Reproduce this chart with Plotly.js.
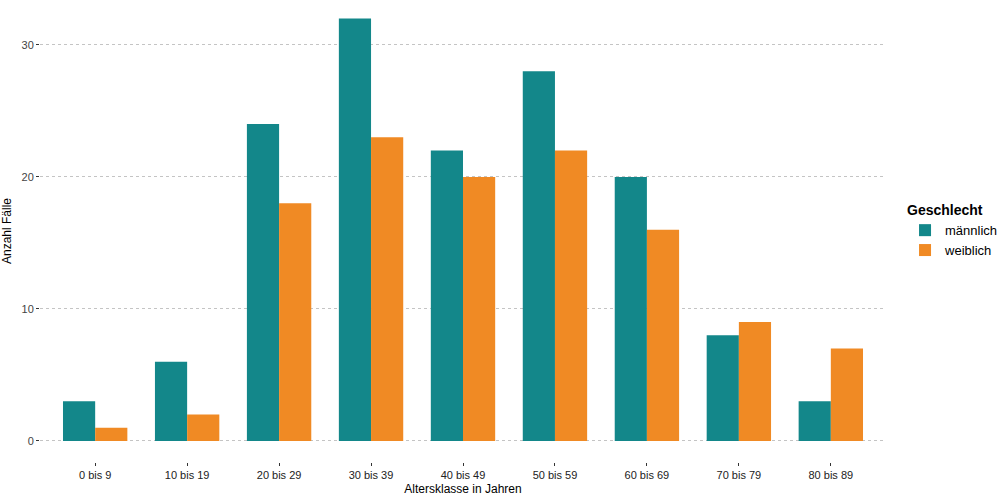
<!DOCTYPE html>
<html>
<head>
<meta charset="utf-8">
<script src="https://cdn.plot.ly/plotly-3.0.1.min.js"></script>
<style>body{margin:0;background:#fff}#chart{width:1000px;height:500px}</style>
</head>
<body>
<div id="chart"></div>
<script>
var categories = ["0 bis 9","10 bis 19","20 bis 29","30 bis 39","40 bis 49","50 bis 59","60 bis 69","70 bis 79","80 bis 89"];
var maennlich = [3,6,24,32,22,28,20,8,3];
var weiblich = [1,2,18,23,20,22,16,9,7];
var yTicks = [0,10,20,30];

var font = {family:"Liberation Sans, Arial, sans-serif", color:"#333333", size:11};
var traces = [
  {type:"bar", name:"männlich", x:categories, y:maennlich, marker:{color:"#13878A"}},
  {type:"bar", name:"weiblich", x:categories, y:weiblich, marker:{color:"#F08A24"}}
];
var layout = {
  width:1000, height:500,
  margin:{l:40, r:114, t:0, b:38, autoexpand:false},
  paper_bgcolor:"#fff", plot_bgcolor:"#fff",
  barmode:"group", bargap:0.3, bargroupgap:0,
  font:font,
  xaxis:{
    type:"category", range:[-0.6, 8.6], showgrid:false, zeroline:false,
    ticks:"outside", ticklen:3, tickcolor:"#333", tickfont:{size:11, color:"#222", family:font.family},
    title:{text:"Altersklasse in Jahren", font:{size:12, color:"#000", family:font.family}, standoff:4}
  },
  yaxis:{
    range:[-1.6, 33.4], tickvals:yTicks, showgrid:true, gridcolor:"#c4c4c4", griddash:"dot", gridwidth:1,
    zeroline:false, ticks:"outside", ticklen:3, tickcolor:"#333",
    tickfont:{size:11, color:"#444", family:font.family},
    title:{text:"Anzahl Fälle", font:{size:12, color:"#000", family:font.family}, standoff:8}
  },
  legend:{
    x:1.0225, xanchor:"left", y:0.5, yanchor:"middle",
    title:{text:"<b>Geschlecht</b>", font:{size:14, color:"#000", family:font.family}},
    font:{size:13, color:"#000", family:font.family},
    itemsizing:"constant"
  },
  showlegend:true
};
Plotly.newPlot("chart", traces, layout, {displayModeBar:false, staticPlot:true});
</script>
</body>
</html>
